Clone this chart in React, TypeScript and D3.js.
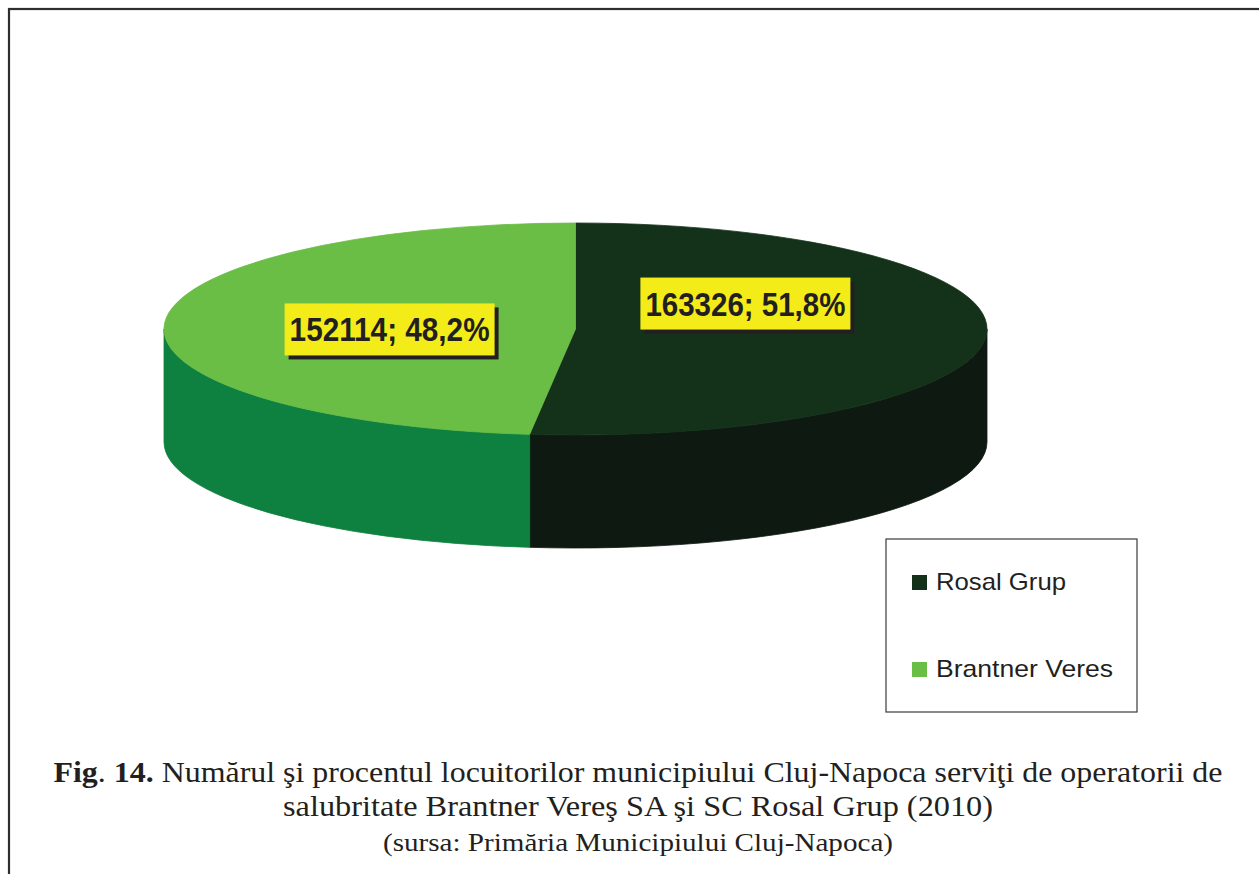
import * as d3 from "d3";

// data
const categories = ["Rosal Grup", "Brantner Veres"];
const values = [163326, 152114];
const captionLines = [
  "Numărul şi procentul locuitorilor municipiului Cluj-Napoca serviţi de operatorii de",
  "salubritate Brantner Vereş SA şi SC Rosal Grup (2010)",
  "(sursa: Primăria Municipiului Cluj-Napoca)",
];

// layout
const W = 1259;
const H = 874;
const CX = 575.5;
const CY = 329;
const RX = 411.5;
const RY = 106;
const DEPTH = 113;
const TOP_COLORS = ["#14321a", "#6abd45"];
const SIDE_COLORS = ["#0e1a11", "#0e803f"];
const LABEL_R = 0.433;
const LABEL_NUDGE = [
  { dx: -8, dy: -28 },
  { dx: -8, dy: 3 },
];
const SERIF = "Liberation Serif";

function pt(a: number, dy = 0): [number, number] {
  return [CX + RX * Math.sin(a), CY - RY * Math.cos(a) + dy];
}

function topPath(a0: number, a1: number) {
  const [x0, y0] = pt(a0);
  const [x1, y1] = pt(a1);
  const large = a1 - a0 > Math.PI ? 1 : 0;
  return `M${CX},${CY}L${x0},${y0}A${RX},${RY} 0 ${large} 1 ${x1},${y1}Z`;
}

function sidePath(a0: number, a1: number) {
  const s = Math.max(a0, Math.PI / 2);
  const e = Math.min(a1, (3 * Math.PI) / 2);
  if (s >= e) return null;
  const [x0, y0] = pt(s);
  const [x1, y1] = pt(e);
  return (
    `M${x0},${y0}A${RX},${RY} 0 0 1 ${x1},${y1}` +
    `L${x1},${y1 + DEPTH}A${RX},${RY} 0 0 0 ${x0},${y0 + DEPTH}Z`
  );
}

export default function App() {
  const total = d3.sum(values);
  const pct = d3.format(".1%");
  const arcs = d3
    .pie<number>()
    .sort(null)
    .startAngle(0)
    .endAngle(2 * Math.PI)(values);

  const legendY = d3
    .scalePoint<string>()
    .domain(categories)
    .range([590, 677]);

  return (
    <svg
      width={W}
      height={H}
      style={{ position: "absolute", left: 0, top: 0, background: "#fff" }}
    >
      <rect
        x={9}
        y={9}
        width={W + 20}
        height={H + 20}
        fill="none"
        stroke="#2e2e2e"
        strokeWidth={2.2}
      />

      {/* side walls */}
      {arcs.map((a, i) => {
        const d = sidePath(a.startAngle, a.endAngle);
        return d ? (
          <path key={"s" + i} d={d} fill={SIDE_COLORS[i]} stroke={SIDE_COLORS[i]} strokeWidth={0.8} />
        ) : null;
      })}

      {/* top faces */}
      {arcs.map((a, i) => (
        <path
          key={"t" + i}
          d={topPath(a.startAngle, a.endAngle)}
          fill={TOP_COLORS[i]}
          stroke={TOP_COLORS[i]}
          strokeWidth={0.8}
        />
      ))}

      {/* data labels */}
      {arcs.map((a, i) => {
        const mid = (a.startAngle + a.endAngle) / 2;
        const cx = CX + LABEL_R * RX * Math.sin(mid) + LABEL_NUDGE[i].dx;
        const cy = CY - LABEL_R * RY * Math.cos(mid) + LABEL_NUDGE[i].dy;
        const txt = `${values[i]}; ${pct(values[i] / total).replace(".", ",")}`;
        const bw = 210;
        const bh = 52;
        return (
          <g key={"l" + i}>
            <rect x={cx - bw / 2 + 4} y={cy - bh / 2 + 4} width={bw} height={bh} fill="#231f20" />
            <rect x={cx - bw / 2} y={cy - bh / 2} width={bw} height={bh} fill="#f3ec19" />
            <text
              x={cx}
              y={cy + 12}
              textAnchor="middle"
              fontFamily="'Liberation Sans', Arial, sans-serif"
              fontWeight="bold"
              fontSize={34}
              fill="#231f20"
              textLength={200}
              lengthAdjust="spacingAndGlyphs"
            >
              {txt}
            </text>
          </g>
        );
      })}

      {/* legend */}
      <rect x={886} y={539} width={251} height={173} fill="#fff" stroke="#3a3a3a" strokeWidth={1.2} />
      {categories.map((c, i) => {
        const y = legendY(c) as number;
        return (
          <g key={"lg" + i}>
            <rect x={912} y={y - 15} width={15} height={15} fill={TOP_COLORS[i]} />
            <text
              x={936}
              y={y}
              fontFamily="'Liberation Sans', Arial, sans-serif"
              fontSize={24}
              fill="#231f20"
              textLength={c.length > 11 ? 177 : 130}
              lengthAdjust="spacingAndGlyphs"
            >
              {c}
            </text>
          </g>
        );
      })}

      {/* caption */}
      <text
        x={638}
        y={782}
        textAnchor="middle"
        fill="#231f20"
        style={{ fontFamily: SERIF, fontSize: "30px" }}
        textLength={1169}
        lengthAdjust="spacingAndGlyphs"
      >
        <tspan fontWeight="bold">Fig</tspan>. <tspan fontWeight="bold">14.</tspan> {captionLines[0]}
      </text>
      <text
        x={638}
        y={816}
        textAnchor="middle"
        fill="#231f20"
        style={{ fontFamily: SERIF, fontSize: "30px" }}
        textLength={710}
        lengthAdjust="spacingAndGlyphs"
      >
        {captionLines[1]}
      </text>
      <text
        x={638}
        y={851}
        textAnchor="middle"
        fill="#231f20"
        style={{ fontFamily: SERIF, fontSize: "25px" }}
        textLength={510}
        lengthAdjust="spacingAndGlyphs"
      >
        {captionLines[2]}
      </text>
    </svg>
  );
}
